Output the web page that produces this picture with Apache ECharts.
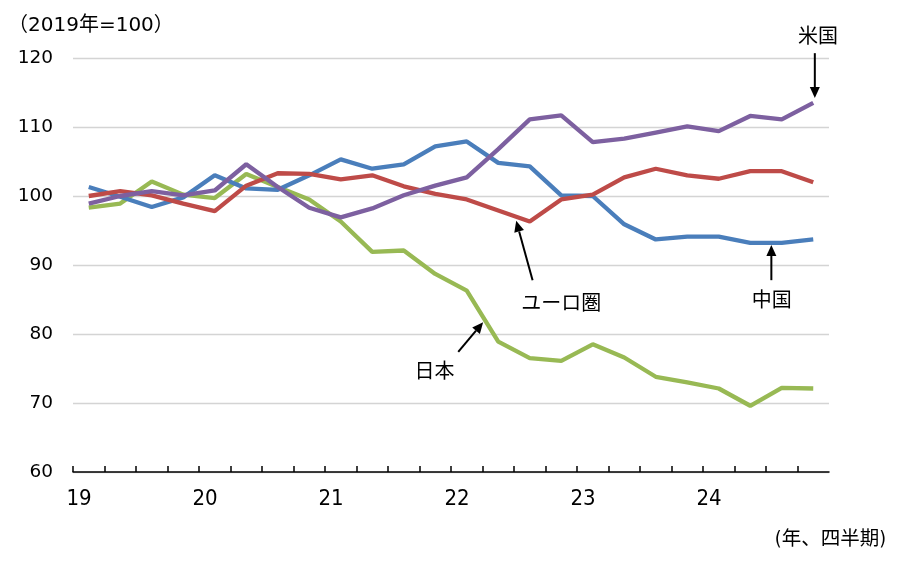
<!DOCTYPE html>
<html>
<head>
<meta charset="utf-8">
<script src="https://cdn.jsdelivr.net/npm/echarts@6/dist/echarts.min.js"></script>
<style>
html,body{margin:0;padding:0;background:#fff;}
#main{width:900px;height:569px;}
</style>
</head>
<body>
<div id="main"></div>
<script>
// Tick labels (year, quarterly data starting 2019Q1)
var years = ['19', '20', '21', '22', '23', '24'];
var quartersPerYear = 4;

// Series values (2019 = 100)
var china = [101.3, 99.9, 98.4, 99.8, 103.0, 101.1, 100.9, 103.0, 105.3, 103.95, 104.6, 107.2, 107.9, 104.8, 104.3, 100.1, 100.0, 95.9, 93.7, 94.1, 94.1, 93.2, 93.2, 93.7];
var euro  = [100.0, 100.7, 100.1, 98.9, 97.8, 101.5, 103.3, 103.2, 102.4, 103.0, 101.4, 100.3, 99.5, 97.9, 96.3, 99.5, 100.2, 102.7, 103.95, 103.0, 102.5, 103.6, 103.6, 102.0];
var japan = [98.3, 98.9, 102.1, 100.2, 99.7, 103.2, 101.3, 99.5, 96.3, 91.9, 92.1, 88.7, 86.3, 78.9, 76.5, 76.1, 78.5, 76.6, 73.8, 73.0, 72.1, 69.6, 72.2, 72.1];
var usa   = [98.9, 100.0, 100.7, 100.1, 100.8, 104.6, 101.3, 98.3, 96.9, 98.2, 100.1, 101.5, 102.7, 106.8, 111.1, 111.7, 107.8, 108.3, 109.2, 110.1, 109.4, 111.6, 111.1, 113.5];

var seriesNames = ['日本', '中国', 'ユーロ圏', '米国'];
var yTicks = [60, 70, 80, 90, 100, 110, 120];
var unitLabel = '（2019年=100）';
var xUnitLabel = '(年、四半期)';

// Annotation anchors in data coordinates: [x (quarters), y (value)]
var annotations = [
  { text: '米国',     label: [23.65, 123.3], from: [23.55, 120.7], to: [23.55, 114.2] },
  { text: '中国',     label: [22.18, 85.0],  from: [22.17, 87.8],  to: [22.17, 92.9] },
  { text: 'ユーロ圏', label: [15.5, 84.6],   from: [14.59, 87.8],  to: [14.07, 96.4] },
  { text: '日本',     label: [11.48, 74.7],  from: [12.23, 77.4],  to: [13.02, 81.7] }
];

function toPairs(arr) {
  return arr.map(function (v, i) { return [i + 0.5, v]; });
}

var chart = echarts.init(document.getElementById('main'), null, { renderer: 'canvas' });
var nQ = years.length * quartersPerYear;

var option = {
  animation: false,
  backgroundColor: '#ffffff',
  grid: { left: 73, right: 71, top: 58, bottom: 97, containLabel: false },
  xAxis: {
    type: 'value',
    min: 0,
    max: nQ,
    interval: 1,
    axisLine: { show: true, onZero: false, lineStyle: { color: '#000', width: 1.5 } },
    axisTick: { show: true, inside: true, length: 6, lineStyle: { color: '#000', width: 1.5 } },
    splitLine: { show: false },
    axisLabel: {
      show: true,
      margin: 16,
      padding: [0, 0, 0, 12],
      color: '#000',
      fontSize: 22,
      fontFamily: 'DejaVu Sans Condensed, DejaVu Sans, sans-serif',
      showMaxLabel: false,
      formatter: function (v) {
        if (v % quartersPerYear === 0 && v / quartersPerYear < years.length) {
          return years[v / quartersPerYear];
        }
        return '';
      }
    }
  },
  yAxis: {
    type: 'value',
    min: yTicks[0],
    max: yTicks[yTicks.length - 1],
    interval: 10,
    axisLine: { show: false },
    axisTick: { show: false },
    splitLine: { show: true, lineStyle: { color: '#d4d4d4', width: 1.3 } },
    axisLabel: {
      margin: 20,
      color: '#000',
      fontSize: 18.5,
      fontFamily: 'DejaVu Sans, sans-serif'
    }
  },
  series: [
    { name: seriesNames[1], type: 'line', data: toPairs(china), z: 3, showSymbol: false, symbol: 'none', lineStyle: { color: '#4a7ebb', width: 4.3 }, itemStyle: { color: '#4a7ebb' } },
    { name: seriesNames[2], type: 'line', data: toPairs(euro),  z: 4, showSymbol: false, symbol: 'none', lineStyle: { color: '#be4b48', width: 4.3 }, itemStyle: { color: '#be4b48' } },
    { name: seriesNames[0], type: 'line', data: toPairs(japan), z: 2, showSymbol: false, symbol: 'none', lineStyle: { color: '#98b954', width: 4.3 }, itemStyle: { color: '#98b954' } },
    { name: seriesNames[3], type: 'line', data: toPairs(usa),   z: 5, showSymbol: false, symbol: 'none', lineStyle: { color: '#7d60a0', width: 4.3 }, itemStyle: { color: '#7d60a0' } }
  ]
};

chart.setOption(option);

function px(pt) { return chart.convertToPixel({ gridIndex: 0 }, pt); }

var graphics = [];
graphics.push({
  type: 'text', left: 8, top: 16, z: 10,
  style: { text: unitLabel, fill: '#000', fontSize: 20, fontFamily: 'DejaVu Sans, "Noto Sans CJK JP", sans-serif' }
});
graphics.push({
  type: 'text', right: 14, top: 530, z: 10,
  style: { text: xUnitLabel, fill: '#000', fontSize: 19.5, fontFamily: 'DejaVu Sans Condensed, "Noto Sans CJK JP", sans-serif' }
});

annotations.forEach(function (a) {
  var p0 = px(a.from), p1 = px(a.to), pl = px(a.label);
  var dx = p1[0] - p0[0], dy = p1[1] - p0[1];
  var len = Math.sqrt(dx * dx + dy * dy);
  var ux = dx / len, uy = dy / len;
  var headLen = 11, headW = 5;
  var bx = p1[0] - ux * headLen, by = p1[1] - uy * headLen;
  graphics.push({
    type: 'line', z: 10,
    shape: { x1: p0[0], y1: p0[1], x2: bx, y2: by },
    style: { stroke: '#000', lineWidth: 2 }
  });
  graphics.push({
    type: 'polygon', z: 10,
    shape: { points: [[p1[0], p1[1]], [bx - uy * headW, by + ux * headW], [bx + uy * headW, by - ux * headW]] },
    style: { fill: '#000' }
  });
  graphics.push({
    type: 'text', z: 10, x: pl[0], y: pl[1],
    style: { text: a.text, fill: '#000', fontSize: 20, fontFamily: '"Noto Sans CJK JP", sans-serif', align: 'center', verticalAlign: 'middle' }
  });
});

chart.setOption({ graphic: graphics });
</script>
</body>
</html>
